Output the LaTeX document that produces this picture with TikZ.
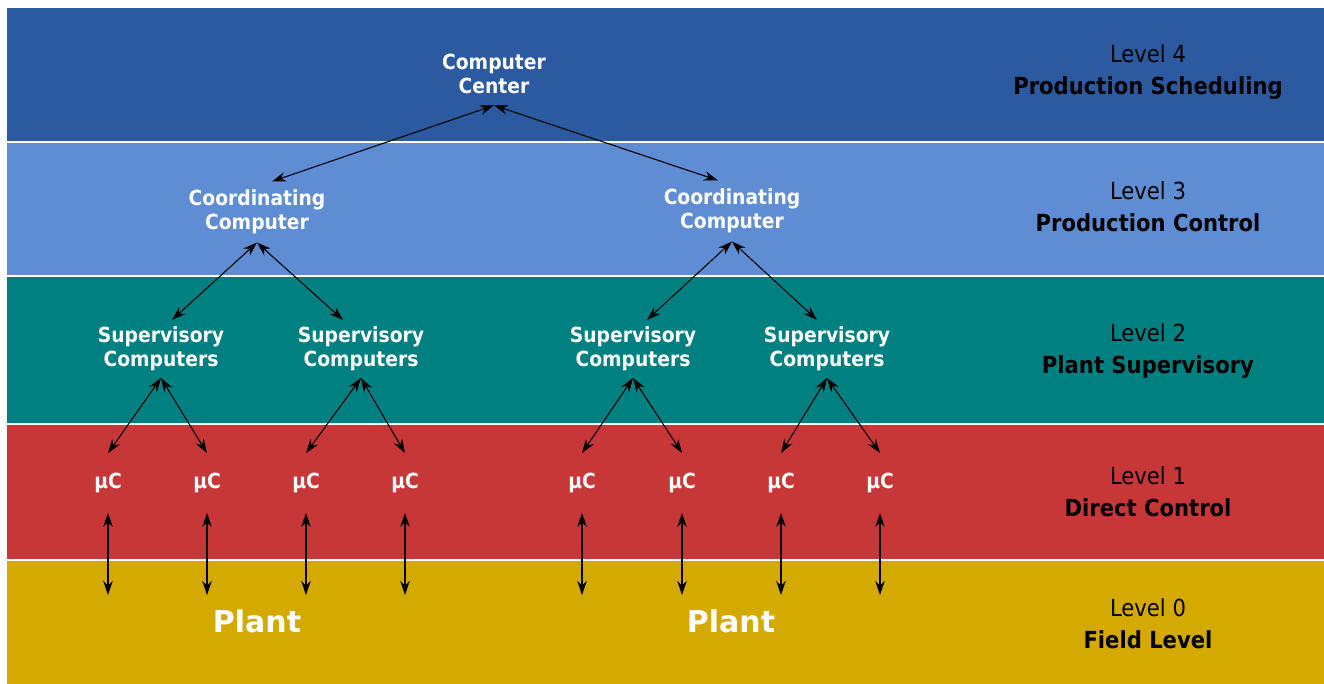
\documentclass[tikz,border=0pt]{standalone}
\usepackage{fontspec}
\setmainfont{DejaVu Sans}
\newfontfamily\condfont{DejaVu Sans Condensed}
\usetikzlibrary{arrows.meta}

\definecolor{bandfour}{HTML}{2C5AA0}
\definecolor{bandthree}{HTML}{5F8DD3}
\definecolor{bandtwo}{HTML}{008080}
\definecolor{bandone}{HTML}{C83737}
\definecolor{bandzero}{HTML}{D4AA00}

\begin{document}
\begin{tikzpicture}[x=1pt, y=-1pt, >={Stealth[length=14pt,width=9.5pt,inset=4.5pt]},
	comp/.style={text=white, align=center, inner sep=0pt,
		font=\condfont\fontsize{20.8}{24}\selectfont\bfseries},
	lvl/.style={align=center, inner sep=0pt,
		font=\condfont\fontsize{23.5}{32}\selectfont},
	link/.style={<->, line width=1.1pt}]
	\fill[white] (0,0) rectangle (1324,684);

	\fill[bandfour]  (7,8)   rectangle (1324,141);
	\fill[bandthree] (7,143) rectangle (1324,275);
	\fill[bandtwo]   (7,277) rectangle (1324,423);
	\fill[bandone]   (7,425) rectangle (1324,559);
	\fill[bandzero]  (7,561) rectangle (1324,684);

	\node[lvl] (levelfour)  at (1148,72)  {Level 4\\\textbf{Production Scheduling}};
	\node[lvl] (levelthree) at (1148,207) {Level 3\\\textbf{Production Control}};
	\node[lvl] (leveltwo)   at (1148,351) {Level 2\\\textbf{Plant Supervisory}};
	\node[lvl] (levelone)   at (1148,492) {Level 1\\\textbf{Direct Control}};
	\node[lvl] (levelzero)  at (1148,624) {Level 0\\\textbf{Field Level}};

	\node[comp, outer sep=11.5pt] (center) at (494,74) {Computer\\Center};

	\node[comp, outer sep=8.5pt] (coordA) at (257,212) {Coordinating\\Computer};
	\node[comp, outer sep=8.5pt] (coordB) at (732,211) {Coordinating\\Computer};

	\node[comp, outer sep=7pt] (supA) at (161,349) {Supervisory\\Computers};
	\node[comp, outer sep=7pt] (supB) at (361,349) {Supervisory\\Computers};
	\node[comp, outer sep=7pt] (supC) at (633,349) {Supervisory\\Computers};
	\node[comp, outer sep=7pt] (supD) at (827,349) {Supervisory\\Computers};

	\node[comp, outer sep=20pt] (muA) at (108,483) {µC};
	\node[comp, outer sep=20pt] (muB) at (207,483) {µC};
	\node[comp, outer sep=20pt] (muC) at (306,483) {µC};
	\node[comp, outer sep=20pt] (muD) at (405,483) {µC};
	\node[comp, outer sep=20pt] (muE) at (582,483) {µC};
	\node[comp, outer sep=20pt] (muF) at (682,483) {µC};
	\node[comp, outer sep=20pt] (muG) at (781,483) {µC};
	\node[comp, outer sep=20pt] (muH) at (880,483) {µC};

	\node[text=white, inner sep=0pt, font=\fontsize{30}{36}\selectfont\bfseries]
	(plantA) at (257,621) {Plant};
	\node[text=white, inner sep=0pt, font=\fontsize{30}{36}\selectfont\bfseries]
	(plantB) at (731,621) {Plant};

	\coordinate (fieldA) at (108,595);
	\coordinate (fieldB) at (207,595);
	\coordinate (fieldC) at (306,595);
	\coordinate (fieldD) at (405,595);
	\coordinate (fieldE) at (582,595);
	\coordinate (fieldF) at (682,595);
	\coordinate (fieldG) at (781,595);
	\coordinate (fieldH) at (880,595);

	\draw[link] (center.south) -- ([xshift=15pt]coordA.north);
	\draw[link] (center.south) -- ([xshift=-14pt]coordB.north);

	\draw[link] (coordA.south) -- ([xshift=11pt]supA.north);
	\draw[link] (coordA.south) -- ([xshift=-18pt]supB.north);
	\draw[link] (coordB.south) -- ([xshift=14pt]supC.north);
	\draw[link] (coordB.south) -- ([xshift=-10pt]supD.north);

	\draw[link] (supA.south) -- (muA.north);
	\draw[link] (supA.south) -- (muB.north);
	\draw[link] (supB.south) -- (muC.north);
	\draw[link] (supB.south) -- (muD.north);
	\draw[link] (supC.south) -- (muE.north);
	\draw[link] (supC.south) -- (muF.north);
	\draw[link] (supD.south) -- (muG.north);
	\draw[link] (supD.south) -- (muH.north);

	\draw[link] (muA.south) -- (fieldA);
	\draw[link] (muB.south) -- (fieldB);
	\draw[link] (muC.south) -- (fieldC);
	\draw[link] (muD.south) -- (fieldD);
	\draw[link] (muE.south) -- (fieldE);
	\draw[link] (muF.south) -- (fieldF);
	\draw[link] (muG.south) -- (fieldG);
	\draw[link] (muH.south) -- (fieldH);
\end{tikzpicture}
\end{document}
